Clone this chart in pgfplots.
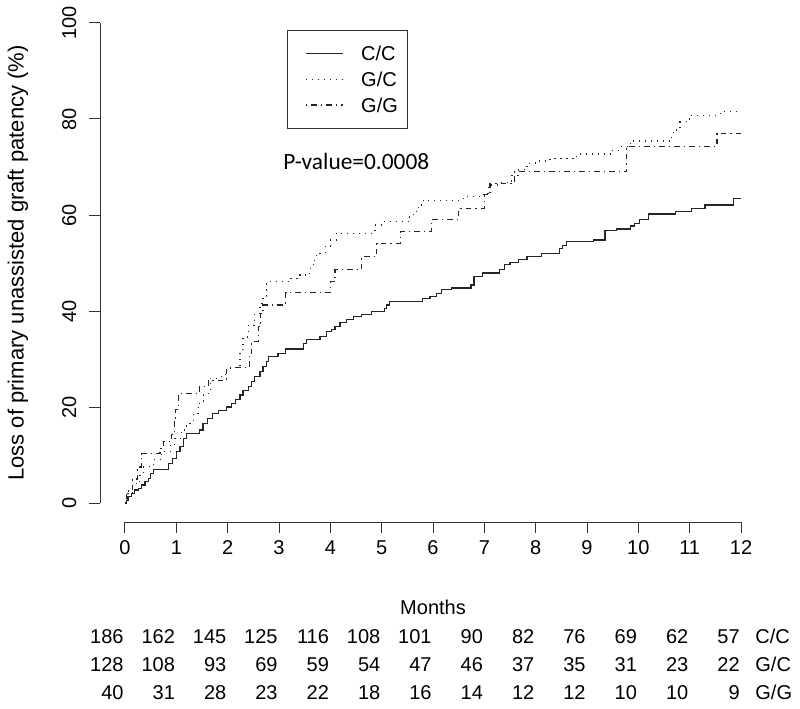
\documentclass[border=0pt]{standalone}
\usepackage{fontspec}
\setmainfont{Liberation Sans}
\newfontfamily\calibri{Carlito}
\usepackage{pgfplots}
\pgfplotsset{compat=1.18}

\begin{document}
\begin{tikzpicture}
\begin{axis}[
  scale only axis, width=308pt, height=240pt,
  xmin=0, xmax=12, ymin=0, ymax=100,
  axis lines*=left,
  axis x line shift=9.6pt,
  axis y line shift=12.3pt,
  axis line style={line width=0.5pt, black!80},
  xtick={0,1,...,12}, ytick={0,20,...,100},
  tick align=outside, major tick length=5.5pt,
  tick style={black!80, line width=0.5pt},
  /pgf/number format/assume math mode=true,
  ticklabel style={font=\fontsize{10}{12}\selectfont},
  yticklabel style={rotate=90, anchor=south},
  yticklabel shift=3pt,
  xticklabel style={anchor=north},
  xlabel={Months},
  ylabel={Loss of primary unassisted graft patency (\%)},
  every axis x label/.style={at={(rel axis cs:0.5,0)}, yshift=-52pt, anchor=center, font=\fontsize{10}{12}\selectfont},
  every axis y label/.style={at={(rel axis cs:0,0.5)}, xshift=-53.5pt, rotate=90, anchor=center, font=\fontsize{11}{13}\selectfont},
  clip=false,
  legend image code/.code={\path[draw=none, fill=none] (-4pt,-6.425pt) rectangle (27.85pt,6.425pt); \draw[#1] (0pt,0pt) -- (18.85pt,0pt);},
  legend style={at={(0.263,0.9854)}, anchor=north west, draw=black!80, line width=0.5pt,
    inner xsep=5pt, inner ysep=5.15pt, row sep=0pt,
    nodes={inner sep=0pt, text depth=0pt},
    font=\fontsize{10}{12}\selectfont},
  legend cell align=left,
]
\addplot[const plot, black!85, line width=0.6pt] coordinates {
(0,0) (0.03,0.5) (0.06,1.3) (0.13,2) (0.19,2.7) (0.26,3.1) (0.32,3.75) (0.39,4.4)
(0.45,5.1) (0.5,6.2) (0.55,6.9) (0.84,8.3) (0.92,9.3) (1.0,10.7) (1.07,11.7)
(1.14,13.5) (1.2,14.5) (1.45,15.2) (1.52,16.6) (1.6,17.6) (1.7,18.7) (1.82,19.3)
(1.98,20) (2.08,20.8) (2.16,21.5) (2.24,22.5) (2.3,23.5) (2.4,24.2) (2.47,25.3)
(2.53,26.3) (2.63,27.4) (2.69,28.4) (2.76,29.4) (2.8,30.5) (2.98,31.2) (3.12,32.1)
(3.47,33.3) (3.54,34) (3.8,34.7) (3.93,35.7) (4.03,36.2) (4.09,36.8) (4.19,37.6)
(4.32,38.2) (4.45,38.8) (4.61,39.2) (4.8,39.9) (5.05,40.6) (5.1,41.25) (5.16,41.9)
(5.8,42.6) (5.94,43.1) (6.07,43.7) (6.17,44.4) (6.36,44.8) (6.74,45.4) (6.8,47.2)
(6.96,47.9) (7.3,48.6) (7.4,49.7) (7.5,50.1) (7.67,50.8) (7.83,51.4) (8.12,52)
(8.46,53) (8.52,53.7) (8.6,54.4) (9.12,54.8) (9.35,56.7) (9.58,57.1) (9.84,57.7)
(9.93,58.3) (10.02,59) (10.2,60.2) (10.72,60.8) (11.04,61.4) (11.3,62.1)
(11.85,63.5) (12.0,63.5)
};
\addlegendentry{C/C}
\addplot[const plot, black!85, line width=0.6pt, dash pattern=on 0.6pt off 2.4pt] coordinates {
(0,0) (0.03,2) (0.15,4) (0.29,5.8) (0.36,7.6) (0.55,9) (0.71,10.7) (0.88,12.1)
(0.97,13.5) (1.1,15.2) (1.2,16.6) (1.33,18.7) (1.43,20.8) (1.53,22.8) (1.66,26)
(1.79,26.3) (1.91,26.7) (1.98,28.1) (2.16,28.5) (2.24,31.9) (2.3,34.6) (2.4,37)
(2.53,39.5) (2.63,41.6) (2.69,43) (2.76,46.1) (3.2,46.8) (3.41,47.5) (3.6,48.9)
(3.67,50.6) (3.73,52) (3.9,53.5) (4.0,54.8) (4.12,56.2) (4.87,57.9) (5.0,58.6)
(5.52,59.6) (5.62,60.7) (5.71,62.1) (5.81,63.1) (6.59,63.8) (6.98,64.5)
(7.08,66.25) (7.3,66.7) (7.53,68.3) (7.66,69.4) (7.83,70.8) (8.0,71.25)
(8.28,71.8) (8.8,72.7) (9.45,73.5) (9.64,74.2) (9.84,75.4) (10.6,76.2)
(10.68,77.7) (10.81,79.4) (11.0,80.8) (11.6,81.5) (12.0,81.5)
};
\addlegendentry{G/C}
\addplot[const plot, black!85, line width=0.6pt, dash pattern=on 0.7pt off 2pt on 2.8pt off 2pt] coordinates {
(0,0) (0.03,2.5) (0.15,5) (0.25,7.5) (0.32,10.3) (0.68,11.4) (0.75,12.8)
(0.91,14.2) (0.96,17.3) (0.99,19.4) (1.04,22.8) (1.45,24.2) (1.62,25.6)
(1.98,28.2) (2.42,30.8) (2.47,33.6) (2.6,36.7) (2.64,39.5) (2.69,41.25)
(3.13,43.8) (4.0,46.1) (4.09,48.6) (4.61,51.3) (4.9,54.1) (5.36,56.5)
(5.97,59) (6.5,61.4) (7.0,64.2) (7.11,66.6) (7.58,69) (9.77,74.2) (11.53,77) (12.0,77)
};
\addlegendentry{G/G}
\node[font=\calibri\fontsize{11.7}{14}\selectfont, anchor=center] at (axis cs:4.506,71.1) {P-value=0.0008};
\coordinate (O) at (axis cs:0,0);
\coordinate (BL) at (axis cs:-2.435,-42.71);
\coordinate (TR) at (axis cs:13.149,104.79);
\end{axis}
\begin{scope}[font=\fontsize{10}{12}\selectfont]
\foreach \i/\a/\b/\c in {0/186/128/40, 1/162/108/31, 2/145/93/28, 3/125/69/23, 4/116/59/22,
  5/108/54/18, 6/101/47/16, 7/90/46/14, 8/82/37/12, 9/76/35/12, 10/69/31/10, 11/62/23/10, 12/57/22/9} {
  \node[anchor=base east, inner sep=0pt] at ([xshift=\i*25.6667pt-0.5pt, yshift=-70.25pt]O) {\a};
  \node[anchor=base east, inner sep=0pt] at ([xshift=\i*25.6667pt-0.5pt, yshift=-84.25pt]O) {\b};
  \node[anchor=base east, inner sep=0pt] at ([xshift=\i*25.6667pt-0.5pt, yshift=-98.25pt]O) {\c};
}
\node[anchor=base west, inner sep=0pt] at ([xshift=315pt, yshift=-70.25pt]O) {C/C};
\node[anchor=base west, inner sep=0pt] at ([xshift=315pt, yshift=-84.25pt]O) {G/C};
\node[anchor=base west, inner sep=0pt] at ([xshift=315pt, yshift=-98.25pt]O) {G/G};
\end{scope}
\pgfresetboundingbox
\path[use as bounding box] (BL) rectangle (TR);
\end{tikzpicture}
\end{document}
